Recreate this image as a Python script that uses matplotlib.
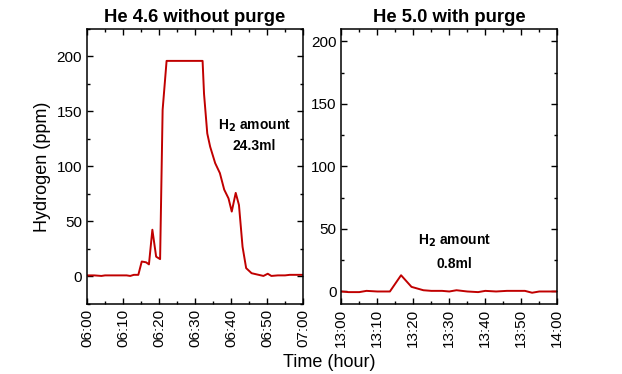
import matplotlib
matplotlib.use("Agg")
import matplotlib.pyplot as plt
from matplotlib.ticker import MultipleLocator

plt.rcParams['font.family'] = ['Liberation Sans', 'DejaVu Sans']

# minutes after the start of each hour window, hydrogen in ppm
left_min = [0, 2, 4, 5, 7, 9, 11, 12, 13, 14.25, 15.2, 16.4, 17.2, 18.15, 19.2, 20.3, 21.0,
            22.1, 32.1, 32.5, 33.4, 34.2, 35.6, 36.9, 38.1, 39.3, 40.2, 41.3, 42.2, 43.2,
            44.2, 45.7, 47, 49, 50.2, 51.2, 53, 55, 56.3, 58, 60]
left_ppm = [1, 1, 0.5, 1, 1, 1, 1, 0.5, 1.5, 1.5, 13.6, 12.9, 11, 42.5, 18, 15.8, 151.5,
            196, 196, 166, 130, 118, 103, 94, 79, 71, 59, 76, 65, 27,
            7.6, 3, 2, 0.5, 2.5, 0.5, 1, 1, 1.5, 1.5, 1.5]

right_min = [0, 2, 5, 7, 10, 13.5, 16.6, 19.5, 22.8, 25, 28, 30, 32, 35, 38, 40, 43, 46,
             49, 51, 53, 55, 58, 60]
right_ppm = [0, -0.5, -0.5, 0.5, 0, 0, 13, 3.7, 1, 0.5, 0.5, 0, 1, 0, -0.5, 0.5, 0, 0.5,
             0.5, 0.5, -1, 0, 0, 0]

left_ticks = ['06:00', '06:10', '06:20', '06:30', '06:40', '06:50', '07:00']
right_ticks = ['13:00', '13:10', '13:20', '13:30', '13:40', '13:50', '14:00']

titles = ['He 4.6 without purge', 'He 5.0 with purge']
notes = ['24.3ml', '0.8ml']

fig = plt.figure(figsize=(6.22, 3.74), dpi=100)
ax1 = fig.add_axes([0.1399, 0.1872, 0.3473, 0.7353])
ax2 = fig.add_axes([0.5487, 0.1872, 0.3473, 0.7353])

red = '#c00000'
ax1.plot(left_min, left_ppm, color=red, lw=1.4)
ax2.plot(right_min, right_ppm, color=red, lw=1.4)

ax1.set_ylim(-25, 225)
ax2.set_ylim(-10, 210)

for ax, ticks, title in [(ax1, left_ticks, titles[0]), (ax2, right_ticks, titles[1])]:
    ax.set_xlim(0, 60)
    ax.set_xticks(range(0, 61, 10))
    ax.set_xticklabels(ticks, rotation=90)
    ax.xaxis.set_minor_locator(MultipleLocator(5))
    ax.set_yticks(range(0, 201, 50))
    ax.yaxis.set_minor_locator(MultipleLocator(25))
    ax.tick_params(which='both', direction='in', top=True, right=True, labelsize=11)
    ax.tick_params(which='major', length=4.5, width=1)
    ax.tick_params(which='minor', length=2.5, width=1)
    for s in ax.spines.values():
        s.set_linewidth(1.1)
    ax.set_title(title, fontsize=13.3, fontweight='bold', pad=5)

ax1.text(46.4, 137, 'H$_\\mathbf{2}$ amount', ha='center', va='center', fontsize=10, fontweight='bold')
ax1.text(46.4, 119, notes[0], ha='center', va='center', fontsize=10, fontweight='bold')
ax2.text(31.4, 40.7, 'H$_\\mathbf{2}$ amount', ha='center', va='center', fontsize=10, fontweight='bold')
ax2.text(31.4, 22.3, notes[1], ha='center', va='center', fontsize=10, fontweight='bold')

ax1.set_ylabel('Hydrogen (ppm)', fontsize=13)
fig.text(0.53, 0.032, 'Time (hour)', ha='center', va='center', fontsize=13)

fig.savefig('out.png', dpi=100)
